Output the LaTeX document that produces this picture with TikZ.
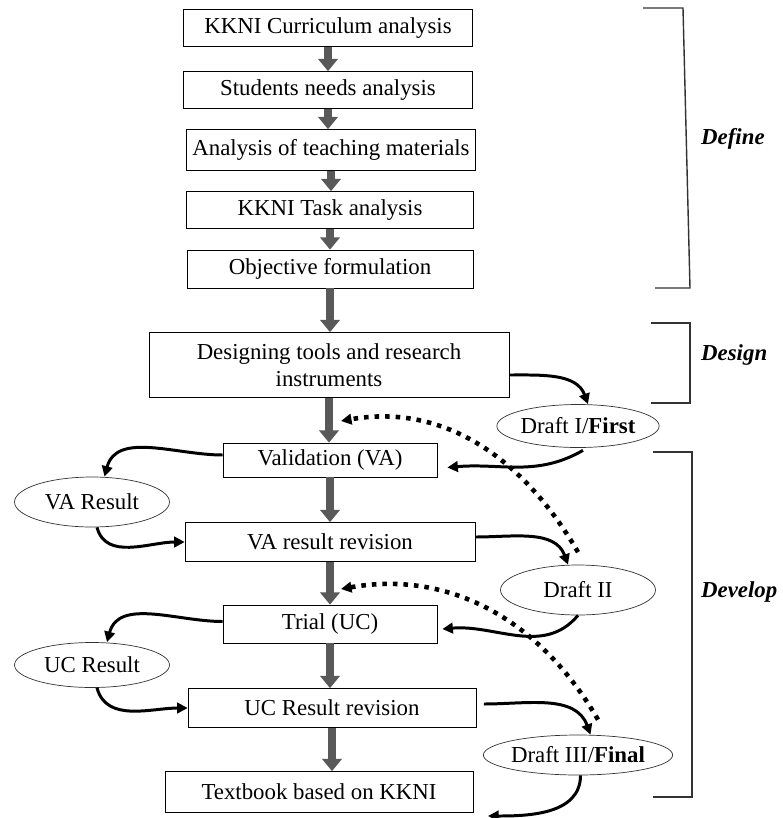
\documentclass[tikz,border=0pt]{standalone}
\usepackage{fontspec}
\setmainfont{Liberation Serif}
\usetikzlibrary{arrows.meta}
\usetikzlibrary{positioning}
\usetikzlibrary{shapes}
\tikzstyle{stagebox}=[rectangle,draw=black,fill=white,align=center,inner sep=2pt,font=\fontsize{13}{15.5}\selectfont]
\tikzstyle{draftnode}=[ellipse,draw=black!80,fill=white,minimum width=3.1cm,inner sep=0pt,font=\fontsize{13}{15.5}\selectfont]
\tikzstyle{flow} = [draw=gray!70!black,line width=4.5pt,-{Triangle[length=7pt,width=11pt]}]
\tikzstyle{curvy} = [draw,line width=1.7pt,-{Triangle[length=6pt,width=6pt]}]
\tikzstyle{feedback} = [draw,line width=2.6pt,dash pattern=on 2.6pt off 3.4pt,-{Triangle[length=6pt,width=6pt]}]
\tikzstyle{bracket} = [draw=black!80,line width=0.8pt]
\tikzstyle{phase} = [anchor=west,font=\fontsize{13}{15.5}\selectfont\bfseries\itshape]

\begin{document}
\begin{tikzpicture}[x=0.02cm,y=0.02cm]
\useasboundingbox (0,0) rectangle (782,-818);

  % main steps
  \foreach \y/\x/\w/\h/\name/\label in {28/328/5.78/0.74/cur/KKNI Curriculum analysis,
        90/328/5.78/0.74/stu/Students needs analysis,
        150/331/5.78/0.82/ana/Analysis of teaching materials,
        210/330/5.74/0.74/task/KKNI Task analysis,
        269/330/5.72/0.76/obj/Objective formulation,
        365/329/7.2/1.3/des/{Designing tools and research\\instruments},
        460/330/4.28/0.68/val/Validation (VA),
        542/330/5.8/0.78/rev1/VA result revision,
        624/330/4.28/0.76/trial/Trial (UC),
        708/332/5.76/0.78/rev2/UC Result revision,
        792/319/6.16/0.82/text/Textbook based on KKNI}
     \node[stagebox,minimum width=\w cm,minimum height=\h cm] (\name) at (\x,-\y) {\label};

  % drafts and results
  \foreach \y/\x/\h/\name/\label in {426/578/0.86/d1/{Draft I/\textbf{First}},
        590/578/1.0/d2/Draft II,
        755/578/0.8/d3/{Draft III/\textbf{Final}},
        502/92/1.0/var/VA Result,
        665/92/0.9/ucr/UC Result}
     \node[draftnode,minimum height=\h cm] (\name) at (\x,-\y) {\label};

  \foreach \a/\b in {cur/stu,stu/ana,ana/task,task/obj,obj/des,des/val,val/rev1,rev1/trial,trial/rev2,rev2/text}
     \draw[flow] (\a.south) -- (\a.south |- \b.north);

  \coordinate (fb1) at (341,-421);
  \coordinate (fb2) at (341,-589);
  \coordinate (tbend) at (488,-816);

  \draw[curvy] ([yshift=-0.2cm]des.east) to[out=0,in=110] ([xshift=0.2cm]d1.north);
  \draw[curvy] ([xshift=0.1cm,yshift=-0.05cm]d1.south) to[out=-150,in=5] ([xshift=0.2cm,yshift=-0.15cm]val.east);
  \draw[curvy] ([yshift=0.1cm]val.west) to[out=180,in=75] ([xshift=0.25cm]var.north);
  \draw[curvy] ([xshift=0.1cm]var.south) to[out=-75,in=180] (rev1.west);
  \draw[curvy] ([yshift=0.1cm]rev1.east) to[out=0,in=110] ([xshift=-0.2cm]d2.north);
  \draw[curvy] (d2.south) to[out=-130,in=5] ([xshift=0.1cm,yshift=-0.1cm]trial.east);
  \draw[curvy] ([yshift=0.05cm]trial.west) to[out=180,in=75] ([xshift=0.3cm]ucr.north);
  \draw[curvy] ([xshift=0.1cm]ucr.south) to[out=-75,in=180] (rev2.west);
  \draw[curvy] ([xshift=0.15cm,yshift=0.08cm]rev2.east) to[out=0,in=110] ([xshift=0.25cm]d3.north);
  \draw[curvy] ([xshift=0.05cm]d3.south) to[out=-90,in=0] (tbend);

  % feedback loops
  \draw[feedback] ([xshift=0.0cm,yshift=0.25cm]d2.north) to[out=120,in=10] (fb1);
  \draw[feedback] ([xshift=0.4cm,yshift=0.3cm]d3.north) to[out=120,in=10] (fb2);

  % phases
  \draw[bracket] (643,-8) -- (683,-8) -- (690,-288) -- (655,-288);
  \draw[bracket] (651,-323) -- (690,-323) -- (690,-403) -- (651,-403);
  \draw[bracket] (653,-452) -- (692,-452) -- (692,-797) -- (653,-797);
  \node[phase] (define) at (695,-139) {Define};
  \node[phase] (design) at (695,-355) {Design};
  \node[phase] (develop) at (695,-592) {Develop};

\end{tikzpicture}
\end{document}
